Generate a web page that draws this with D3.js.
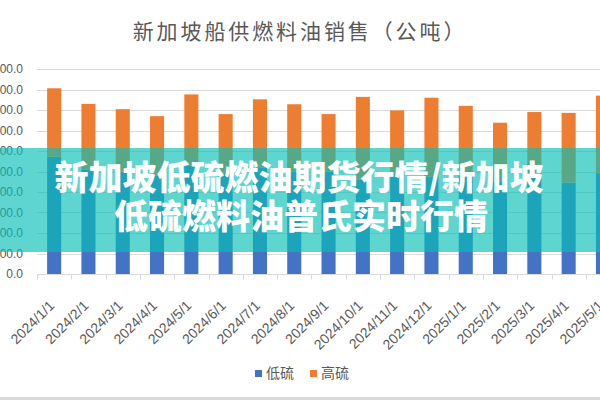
<!DOCTYPE html>
<html>
<head>
<meta charset="utf-8">
<script src="https://cdn.jsdelivr.net/npm/d3@7/dist/d3.min.js"></script>
<style>
  body { margin: 0; background: #fff; }
  svg { display: block; font-family: "Noto Sans CJK SC", "Noto Sans", sans-serif; }
</style>
</head>
<body>
<div id="chart"></div>
<script>
var months = ["2024/1/1", "2024/2/1", "2024/3/1", "2024/4/1", "2024/5/1", "2024/6/1",
    "2024/7/1", "2024/8/1", "2024/9/1", "2024/10/1", "2024/11/1", "2024/12/1",
    "2025/1/1", "2025/2/1", "2025/3/1", "2025/4/1", "2025/5/1"];
var lowSulfur = [2860, 2550, 2500, 2400, 2650, 2450, 2600, 2500, 2500, 2300, 2450, 2370,
    2400, 2250, 2350, 2230, 2460];
var highSulfur = [1670, 1600, 1520, 1450, 1730, 1450, 1660, 1640, 1400, 2020, 1540, 1930,
    1700, 1440, 1600, 1700, 1890];
var yTicks = [0, 500, 1000, 1500, 2000, 2500, 3000, 3500, 4000, 4500, 5000];
var seriesNames = ["低硫", "高硫"];
var colors = ["#4472C4", "#ED7D31"];

var width = 600, height = 400;

var svg = d3.select("#chart")
    .append("svg")
    .attr("width", width)
    .attr("height", height);

var rows = months.map(function(m, i) {
    return { month: m, low: lowSulfur[i], high: highSulfur[i] };
});

var stacked = d3.stack().keys(["low", "high"])(rows);

var x = d3.scaleBand()
    .domain(months)
    .range([37, 37 + 34.3 * months.length])
    .paddingInner(0.59)
    .paddingOuter(0.295);

var y = d3.scaleLinear()
    .domain([0, 5000])
    .range([274, 69]);

svg.append("text")
    .attr("x", 300)
    .attr("y", 39)
    .attr("text-anchor", "middle")
    .attr("font-size", 21)
    .attr("letter-spacing", 2.9)
    .attr("fill", "#595959")
    .text("新加坡船供燃料油销售（公吨）");

// gridlines + y labels
svg.append("g")
    .attr("class", "grid")
    .selectAll("line")
    .data(yTicks.slice(1))
    .enter().append("line")
    .attr("x1", 37)
    .attr("x2", width)
    .attr("y1", function(d) { return Math.round(y(d)) + 0.5; })
    .attr("y2", function(d) { return Math.round(y(d)) + 0.5; })
    .attr("stroke", "#d9d9d9")
    .attr("stroke-width", 1);

svg.append("g")
    .selectAll("text")
    .data(yTicks)
    .enter().append("text")
    .attr("x", 23)
    .attr("y", function(d) { return y(d); })
    .attr("dy", "0.35em")
    .attr("text-anchor", "end")
    .attr("font-size", 12)
    .attr("font-family", "Liberation Sans, Arial, sans-serif")
    .attr("fill", "#595959")
    .text(function(d) { return d3.format(".1f")(d); });

// bars
svg.append("g")
    .selectAll("g")
    .data(stacked)
    .enter().append("g")
    .attr("fill", function(d, i) { return colors[i]; })
    .selectAll("rect")
    .data(function(d) { return d; })
    .enter().append("rect")
    .attr("x", function(d) { return x(d.data.month); })
    .attr("y", function(d) { return y(d[1]); })
    .attr("width", x.bandwidth())
    .attr("height", function(d) { return y(d[0]) - y(d[1]); });

// x axis
var xAxis = svg.append("g")
    .attr("transform", "translate(0,274.5)");

xAxis.append("line")
    .attr("x1", 37)
    .attr("x2", width)
    .attr("stroke", "#d9d9d9");

xAxis.selectAll(".tick")
    .data(d3.range(months.length + 1))
    .enter().append("line")
    .attr("x1", function(i) { return Math.round(x.range()[0] + i * x.step()) + 0.5; })
    .attr("x2", function(i) { return Math.round(x.range()[0] + i * x.step()) + 0.5; })
    .attr("y1", 0)
    .attr("y2", 5)
    .attr("stroke", "#d9d9d9");

xAxis.selectAll(".xlabel")
    .data(months)
    .enter().append("text")
    .attr("class", "xlabel")
    .attr("transform", function(d) {
        return "translate(" + (x(d) + x.bandwidth() / 2 + 1) + ",32) rotate(-45)";
    })
    .attr("text-anchor", "end")
    .attr("font-size", 14)
    .attr("font-family", "Liberation Sans, Arial, sans-serif")
    .attr("fill", "#595959")
    .text(function(d) { return d; });

// legend
var legend = svg.append("g")
    .selectAll("g")
    .data(seriesNames)
    .enter().append("g")
    .attr("transform", function(d, i) { return "translate(" + (255 + i * 55) + ",370)"; });

legend.append("rect")
    .attr("width", 7)
    .attr("height", 7)
    .attr("fill", function(d, i) { return colors[i]; });

legend.append("text")
    .attr("x", 11)
    .attr("y", 8)
    .attr("font-size", 14)
    .attr("fill", "#595959")
    .text(function(d) { return d; });

svg.append("line")
    .attr("x1", 0)
    .attr("x2", width)
    .attr("y1", 398.5)
    .attr("y2", 398.5)
    .attr("stroke", "#d9d9d9")
    .attr("stroke-width", 3);

// overlay banner
svg.append("rect")
    .attr("x", 0)
    .attr("y", 148)
    .attr("width", width)
    .attr("height", 104)
    .attr("fill", "rgb(8,190,182)")
    .attr("fill-opacity", 0.65);

var banner = svg.append("g")
    .attr("font-size", 34)
    .attr("font-weight", 900)
    .attr("fill", "#fff")
    .attr("text-anchor", "middle");

banner.append("text")
    .attr("x", 299)
    .attr("y", 190)
    .text("新加坡低硫燃油期货行情/新加坡");

banner.append("text")
    .attr("x", 301)
    .attr("y", 229)
    .text("低硫燃料油普氏实时行情");
</script>
</body>
</html>
